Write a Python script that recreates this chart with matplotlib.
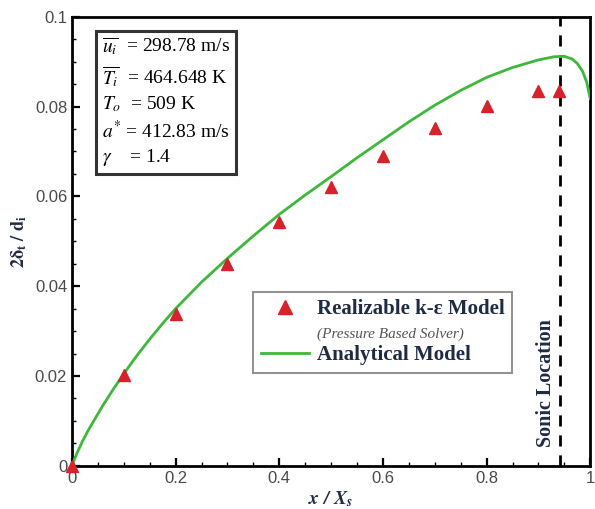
import matplotlib
matplotlib.use("Agg")
import matplotlib.pyplot as plt
from matplotlib.lines import Line2D
from matplotlib.ticker import MultipleLocator

# CFD points (Realizable k-eps, pressure based solver)
cfd_x = [0.0, 0.1, 0.2, 0.3, 0.4, 0.5, 0.6, 0.7, 0.8, 0.9, 0.94]
cfd_y = [0.0, 0.0203, 0.0339, 0.0449, 0.0544, 0.0620, 0.0689, 0.0753, 0.0801, 0.0834, 0.0834]

# analytical model
ana_x = [0.0, 0.005, 0.01, 0.02, 0.03, 0.04, 0.06, 0.08, 0.1, 0.125, 0.15, 0.175, 0.2,
         0.25, 0.3, 0.35, 0.4, 0.45, 0.5, 0.55, 0.6, 0.65, 0.7, 0.75, 0.8, 0.85,
         0.9, 0.93, 0.95, 0.965, 0.975, 0.985, 0.993, 1.0]
ana_y = [0.0, 0.0015, 0.0029, 0.0054, 0.0076, 0.0096, 0.0135, 0.0171, 0.0205, 0.0245,
         0.0282, 0.0317, 0.0350, 0.0409, 0.0462, 0.0512, 0.0560, 0.0603, 0.0644, 0.0686,
         0.0726, 0.0766, 0.0803, 0.0836, 0.0865, 0.0887, 0.0904, 0.0911, 0.0912, 0.0906,
         0.0896, 0.0879, 0.0855, 0.0818]

sonic_x = 0.942

params = [r"$\overline{u_i}$  = 298.78 m/s",
          r"$\overline{T_i}$  = 464.648 K",
          r"$T_o$  = 509 K",
          r"$a^{*}$ = 412.83 m/s",
          r"$\gamma$    = 1.4"]

plt.rcParams.update({
    "mathtext.fontset": "stix",
    "font.family": "Liberation Serif",
})

fig = plt.figure(figsize=(5.95, 5.09), dpi=100)
ax = fig.add_axes([0.121, 0.085, 0.871, 0.882])

green = "#3db83a"
red = "#d7212b"

ax.plot(ana_x, ana_y, color=green, lw=2.0, zorder=3)
ax.plot(cfd_x, cfd_y, ls="none", marker="^", ms=9, color=red, zorder=4, clip_on=False)
ax.axvline(sonic_x, color="black", lw=2.0, ls=(0, (4, 3.2)), zorder=2)

ax.set_xlim(0, 1)
ax.set_ylim(0, 0.1)
ax.xaxis.set_minor_locator(MultipleLocator(0.05))
ax.yaxis.set_minor_locator(MultipleLocator(0.005))
ax.set_xticks([0, 0.2, 0.4, 0.6, 0.8, 1.0])
ax.set_xticklabels(["0", "0.2", "0.4", "0.6", "0.8", "1"])
ax.set_yticks([0, 0.02, 0.04, 0.06, 0.08, 0.1])
ax.set_yticklabels(["0", "0.02", "0.04", "0.06", "0.08", "0.1"])
ax.tick_params(which="major", direction="in", length=6, width=1.6,
               labelsize=12, labelcolor="#4a4a4a", top=False, right=False)
ax.tick_params(which="minor", direction="in", length=3, width=1.0)
for lab in ax.get_xticklabels() + ax.get_yticklabels():
    lab.set_family("Liberation Sans")
for sp in ax.spines.values():
    sp.set_linewidth(2.0)

ax.set_xlabel(r"$\mathbfit{x\ /\ X_s}$", fontsize=14, color="#1f2a44", labelpad=3)
ax.set_ylabel(r"$\mathbf{2\delta_t\ /\ d_i}$", fontsize=13, color="#1f2a44", labelpad=4)

# parameters box
ax.text(0.058, 0.958, "\n".join(params), transform=ax.transAxes, va="top", ha="left",
        fontsize=14, linespacing=1.32,
        bbox=dict(boxstyle="square,pad=0.3", fc="white", ec="#333333", lw=2.2))

# legend
tri = Line2D([], [], ls="none", marker="^", ms=10, color=red)
blank = Line2D([], [], ls="none")
line = Line2D([], [], color=green, lw=2.0)
leg = ax.legend([tri, blank, line],
                ["Realizable k-ε Model", "(Pressure Based Solver)", "Analytical Model"],
                loc="upper left", bbox_to_anchor=(0.33, 0.41), frameon=True,
                fancybox=False, edgecolor="#777777", handlelength=2.3,
                handletextpad=0.4, borderpad=0.35, labelspacing=0.2, fontsize=15)
leg.get_frame().set_linewidth(1.5)
texts = leg.get_texts()
texts[0].set_fontweight("bold")
texts[0].set_color("#1f2a44")
texts[1].set_fontstyle("italic")
texts[1].set_fontsize(11)
texts[1].set_color("#555555")
texts[2].set_fontweight("bold")
texts[2].set_color("#1f2a44")

ax.text(0.915, 0.185, "Sonic Location", rotation=90, transform=ax.transAxes,
        ha="center", va="center", fontsize=14.5, fontweight="bold", color="#1f2a44")

fig.savefig("out.png", dpi=100)
